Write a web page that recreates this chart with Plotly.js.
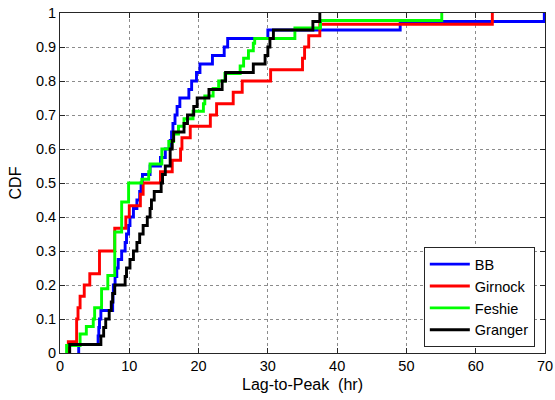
<!DOCTYPE html>
<html>
<head>
<meta charset="utf-8">
<script src="https://cdn.plot.ly/plotly-3.0.1.min.js"></script>
<style>
  html, body { margin: 0; padding: 0; background: #fff; }
  #chart { width: 555px; height: 400px; }
</style>
</head>
<body>
<div id="chart"></div>
<script>
// Step positions (Lag-to-Peak, hr) and CDF level after each step
const seriesNames = ["BB", "Girnock", "Feshie", "Granger"];
const seriesColors = ["#0000ff", "#ff0000", "#00ff00", "#000000"];

const bbX = [2.7, 5.5, 5.6, 5.7, 5.9, 7.6, 7.65, 7.7, 7.95, 8.2, 8.4, 8.9, 9.4, 9.6, 9.9, 10.1, 10.6, 11.1, 11.5, 11.7, 11.9, 13.0, 14.5, 15.2, 15.9, 16.1, 16.3, 16.6, 16.9, 17.3, 18.6, 19.0, 19.7, 20.2, 22.0, 23.7, 24.2, 30.0, 49.1, 69.9];
const bbY = [0.025, 0.05, 0.075, 0.1, 0.125, 0.15, 0.175, 0.2, 0.225, 0.25, 0.275, 0.3, 0.325, 0.35, 0.375, 0.4, 0.425, 0.45, 0.475, 0.5, 0.525, 0.55, 0.575, 0.6, 0.625, 0.65, 0.675, 0.7, 0.725, 0.75, 0.775, 0.8, 0.825, 0.85, 0.875, 0.9, 0.925, 0.95, 0.975, 1.0];

const girnockX = [1.2, 2.4, 2.6, 2.9, 3.5, 4.3, 5.7, 7.9, 9.5, 10.0, 11.6, 12.0, 14.5, 16.2, 17.4, 17.6, 18.8, 21.7, 22.6, 25.0, 26.3, 30.4, 35.0, 35.3, 35.9, 37.5, 62.4];
const girnockY = [0.033, 0.1, 0.133, 0.167, 0.2, 0.233, 0.3, 0.367, 0.4, 0.433, 0.467, 0.5, 0.533, 0.567, 0.6, 0.633, 0.667, 0.7, 0.733, 0.767, 0.8, 0.833, 0.867, 0.9, 0.933, 0.967, 1.0];

const feshieX = [0.95, 2.9, 3.8, 4.8, 5.0, 6.0, 6.9, 7.9, 8.9, 9.9, 11.8, 12.8, 13.0, 14.7, 15.7, 16.4, 17.1, 17.9, 19.2, 20.7, 20.9, 22.1, 22.9, 23.8, 26.0, 26.5, 27.2, 27.9, 28.1, 33.9, 37.6, 55.1];
const feshieY = [0.022, 0.056, 0.078, 0.1, 0.133, 0.189, 0.228, 0.356, 0.444, 0.5, 0.511, 0.533, 0.556, 0.6, 0.622, 0.644, 0.667, 0.689, 0.711, 0.733, 0.756, 0.778, 0.8, 0.822, 0.844, 0.867, 0.889, 0.911, 0.925, 0.956, 0.978, 1.0];

const grangerX = [1.4, 5.9, 6.3, 6.6, 7.1, 7.4, 7.6, 7.9, 9.4, 9.6, 10.1, 10.6, 11.1, 11.5, 12.0, 12.6, 13.0, 13.2, 13.6, 14.6, 14.8, 15.2, 15.9, 16.2, 16.4, 17.9, 18.4, 19.3, 19.8, 21.5, 23.4, 23.9, 27.9, 29.6, 30.0, 30.3, 30.8, 36.5, 37.5];
const grangerY = [0.025, 0.05, 0.075, 0.1, 0.125, 0.15, 0.175, 0.2, 0.225, 0.25, 0.275, 0.3, 0.325, 0.35, 0.375, 0.4, 0.425, 0.45, 0.475, 0.5, 0.525, 0.55, 0.6, 0.625, 0.65, 0.675, 0.7, 0.725, 0.75, 0.775, 0.8, 0.825, 0.85, 0.875, 0.9, 0.925, 0.95, 0.975, 1.0];

const xTickVals = [0, 10, 20, 30, 40, 50, 60, 70];
const yTickVals = [0, 0.1, 0.2, 0.3, 0.4, 0.5, 0.6, 0.7, 0.8, 0.9, 1];

const allX = [bbX, girnockX, feshieX, grangerX];
const allY = [bbY, girnockY, feshieY, grangerY];

// Each CDF starts at 0 at its first step position
const traces = seriesNames.map((name, i) => ({
  type: "scatter",
  mode: "lines",
  name: name,
  x: [allX[i][0]].concat(allX[i]),
  y: [0].concat(allY[i]),
  line: { shape: "hv", color: seriesColors[i], width: 2.9 }
}));

const FONT = "Liberation Sans, Arial, Helvetica, sans-serif";
const axisCommon = {
  showline: true,
  linecolor: "#262626",
  linewidth: 1,
  mirror: "ticks",
  ticks: "inside",
  ticklen: 5,
  tickcolor: "#262626",
  showgrid: true,
  gridcolor: "#8c8c8c",
  griddash: "dot",
  gridwidth: 1,
  zeroline: false,
  tickfont: { family: FONT, size: 14.5, color: "#000" }
};

const layout = {
  width: 555,
  height: 400,
  paper_bgcolor: "#ffffff",
  plot_bgcolor: "#ffffff",
  margin: { l: 60, r: 10, t: 13, b: 47 },
  font: { family: FONT, color: "#000" },
  showlegend: true,
  legend: {
    x: 0.979, y: 0.017, xanchor: "right", yanchor: "bottom",
    bgcolor: "#ffffff", bordercolor: "#262626", borderwidth: 1,
    font: { family: FONT, size: 14.5, color: "#000" },
    tracegroupgap: 0, itemwidth: 40
  },
  xaxis: Object.assign({}, axisCommon, {
    range: [0, 70],
    tickvals: xTickVals,
    ticktext: xTickVals.map(String),
    title: { text: "Lag-to-Peak\u00a0\u00a0(hr)", font: { family: FONT, size: 16, color: "#000" }, standoff: 5 }
  }),
  yaxis: Object.assign({}, axisCommon, {
    range: [0, 1],
    tickvals: yTickVals,
    ticktext: yTickVals.map(String),
    title: { text: "CDF", font: { family: FONT, size: 16, color: "#000" }, standoff: 10 }
  })
};

Plotly.newPlot("chart", traces, layout, { displayModeBar: false, staticPlot: true });
</script>
</body>
</html>
